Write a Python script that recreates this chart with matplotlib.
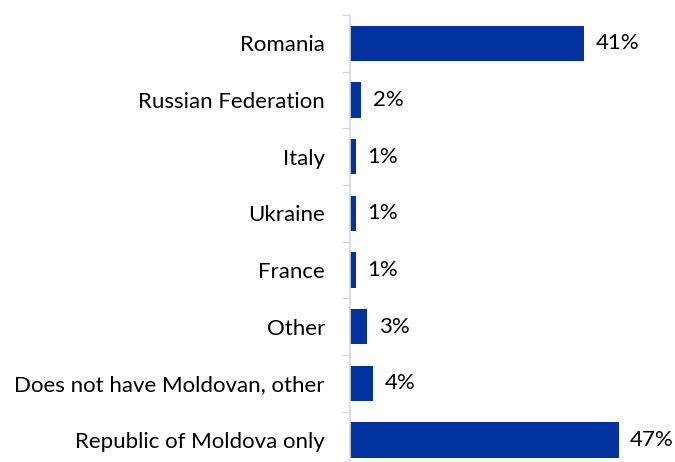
import numpy as np
import matplotlib.pyplot as plt

categories = ["Romania", "Russian Federation", "Italy", "Ukraine", "France",
              "Other", "Does not have Moldovan, other", "Republic of Moldova only"]
values = [41, 2, 1, 1, 1, 3, 4, 47]

plt.rcParams['font.family'] = ['Lato', 'DejaVu Sans']

fig = plt.figure(figsize=(6.75, 4.62), dpi=100)
# plot area runs a little past the bottom edge of the figure
ax = fig.add_axes([0.5185, -0.0136, 0.47, 0.9811])

y = np.arange(len(categories))
ax.barh(y, values, height=0.62, color='#0233A0')
for yi, v in zip(y, values):
    ax.text(v + 2.0, yi, f"{v}%", va='center', ha='left', fontsize=16, color='black')

ax.set_ylim(len(categories) - 0.5, -0.5)
ax.set_xlim(0, 55.5)

# category names on major ticks (no marks), boundary marks on minor ticks
ax.set_yticks(y)
ax.set_yticklabels(categories, fontsize=16)
ax.tick_params(axis='y', which='major', length=0, pad=18)
ax.set_yticks(np.arange(-0.5, len(categories)), minor=True)
ax.tick_params(axis='y', which='minor', length=6, width=1, color='#d9d9d9')
ax.set_xticks([])

for side in ['top', 'right', 'bottom']:
    ax.spines[side].set_visible(False)
ax.spines['left'].set_color('#d9d9d9')
ax.spines['left'].set_linewidth(1.2)

fig.savefig('out.png', dpi=100)
